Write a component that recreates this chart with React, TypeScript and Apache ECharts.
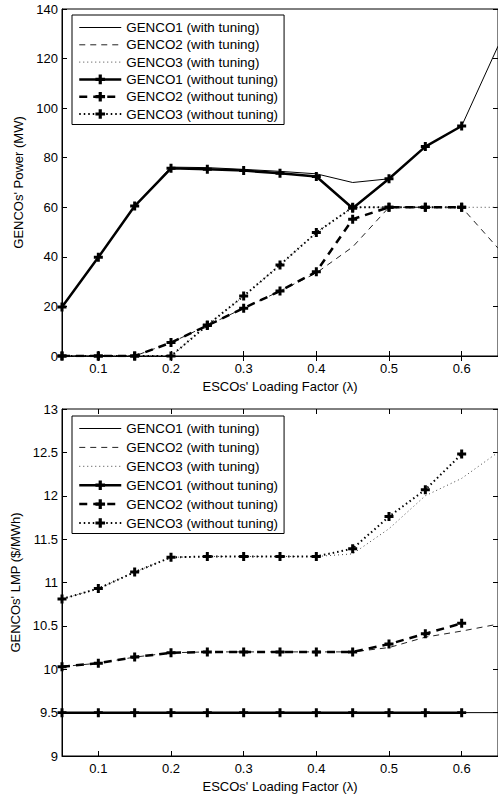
import React, { useEffect, useRef } from "react";
import * as echarts from "echarts";

const lambda = [0.05, 0.1, 0.15, 0.2, 0.25, 0.3, 0.35, 0.4, 0.45, 0.5, 0.55, 0.6, 0.65];
const xTicks = [0.1, 0.2, 0.3, 0.4, 0.5, 0.6];

const seriesNames = [
  "GENCO1 (with tuning)",
  "GENCO2 (with tuning)",
  "GENCO3 (with tuning)",
  "GENCO1 (without tuning)",
  "GENCO2 (without tuning)",
  "GENCO3 (without tuning)",
];

// GENCOs' Power (MW)
const powerG1With = [19.8, 39.8, 60.5, 76.2, 76.0, 75.3, 74.5, 73.5, 70.0, 71.5, 84.5, 92.8, 125];
const powerG2With = [0, 0, 0, 5.4, 12.3, 19.3, 26.2, 33.5, 44, 60, 60, 60, 43.5];
const powerG3With = [0, 0, 0, 0, 12.3, 24.2, 36.7, 49.8, 60, 60, 60, 60, 60];
const powerG1Without = [19.8, 39.8, 60.5, 75.7, 75.3, 74.8, 73.7, 72.4, 59.6, 71.5, 84.5, 92.8];
const powerG2Without = [0, 0, 0, 5.4, 12.3, 19.3, 26.2, 34.0, 55.2, 60, 60, 60];
const powerG3Without = [0, 0, 0, 0, 12.5, 24.2, 36.7, 49.8, 60, 60, 60, 60];

// GENCOs' LMP ($/MWh)
const lmpG1With = [9.5, 9.5, 9.5, 9.5, 9.5, 9.5, 9.5, 9.5, 9.5, 9.5, 9.5, 9.5, 9.5];
const lmpG2With = [10.03, 10.07, 10.14, 10.19, 10.2, 10.2, 10.2, 10.2, 10.2, 10.25, 10.37, 10.44, 10.52];
const lmpG3With = [10.81, 10.93, 11.12, 11.29, 11.3, 11.3, 11.3, 11.3, 11.33, 11.62, 12.0, 12.2, 12.5];
const lmpG1Without = [9.5, 9.5, 9.5, 9.5, 9.5, 9.5, 9.5, 9.5, 9.5, 9.5, 9.5, 9.5];
const lmpG2Without = [10.03, 10.07, 10.14, 10.19, 10.2, 10.2, 10.2, 10.2, 10.2, 10.29, 10.41, 10.53];
const lmpG3Without = [10.81, 10.93, 11.12, 11.29, 11.3, 11.3, 11.3, 11.3, 11.39, 11.76, 12.07, 12.48];

const FONT = "Arial, 'Liberation Sans', Helvetica, sans-serif";
const PLUS = "path://M3,0H6V3H9V6H6V9H3V6H0V3H3Z";

const styles = [
  { width: 1, type: "solid" as any, color: "#000", marker: false },
  { width: 1, type: [6, 5] as any, color: "#222", marker: false },
  { width: 1, type: [1, 3] as any, color: "#444", marker: false },
  { width: 2.5, type: "solid" as any, color: "#000", marker: true },
  { width: 2.5, type: [8, 6] as any, color: "#000", marker: true },
  { width: 2, type: [1.5, 3] as any, color: "#000", marker: true },
];

function pairs(vals: number[]) {
  return vals.map((v, i) => [lambda[i], v]);
}

function buildOption(cfg: {
  data: number[][];
  yMin: number;
  yMax: number;
  yInterval: number;
  yName: string;
  gridBottom: number;
  legendTop: number;
  legendGap: number;
  legendPadding: number[];
}) {
  const axisText = { color: "#000", fontSize: 13, fontFamily: FONT };
  return {
    animation: false,
    backgroundColor: "#fff",
    textStyle: { fontFamily: FONT },
    grid: {
      left: 62,
      top: 9,
      right: -5,
      bottom: cfg.gridBottom,
      show: true,
      borderColor: "#000",
      borderWidth: 1,
      backgroundColor: "transparent",
    },
    legend: {
      data: seriesNames.map((name, i) => ({
        name,
        itemStyle: { color: "#000", opacity: styles[i].marker ? 1 : 0 },
        lineStyle: { color: styles[i].color, width: styles[i].width, type: styles[i].type },
      })),
      orient: "vertical",
      left: 72,
      top: cfg.legendTop,
      itemWidth: 42,
      itemHeight: 12,
      itemGap: cfg.legendGap,
      padding: cfg.legendPadding,
      borderColor: "#000",
      borderWidth: 1,
      backgroundColor: "#fff",
      selectedMode: false,
      textStyle: { color: "#000", fontSize: 13.4, fontFamily: FONT, padding: [0, 0, 0, 0] },
    },
    xAxis: [
      {
        type: "value",
        min: 0.05,
        max: 0.65,
        name: "ESCOs' Loading Factor (λ)",
        nameLocation: "middle",
        nameGap: 22,
        nameTextStyle: axisText,
        axisLine: { show: true, lineStyle: { color: "#000", width: 1 } },
        axisTick: { show: true, inside: true, length: 5, customValues: xTicks, lineStyle: { color: "#000" } },
        axisLabel: { ...axisText, margin: 6, customValues: xTicks, formatter: (v: number) => v.toFixed(1) },
        splitLine: { show: false },
      },
      {
        type: "value",
        position: "top",
        min: 0.05,
        max: 0.65,
        axisLine: { show: false },
        axisTick: { show: true, inside: true, length: 5, customValues: xTicks, lineStyle: { color: "#000" } },
        axisLabel: { show: false, customValues: xTicks },
        splitLine: { show: false },
      },
    ],
    yAxis: [
      {
        type: "value",
        min: cfg.yMin,
        max: cfg.yMax,
        interval: cfg.yInterval,
        name: cfg.yName,
        nameLocation: "middle",
        nameGap: 32,
        nameTextStyle: axisText,
        axisLine: { show: true, lineStyle: { color: "#000", width: 1 } },
        axisTick: { show: true, inside: true, length: 5, lineStyle: { color: "#000" } },
        axisLabel: { ...axisText, margin: 4 },
        splitLine: { show: false },
      },
      {
        type: "value",
        position: "right",
        min: cfg.yMin,
        max: cfg.yMax,
        interval: cfg.yInterval,
        axisLine: { show: false },
        axisTick: { show: true, inside: true, length: 5, lineStyle: { color: "#000" } },
        axisLabel: { show: false },
        splitLine: { show: false },
      },
    ],
    series: cfg.data.map((vals, i) => {
      const s = styles[i];
      return {
        name: seriesNames[i],
        type: "line",
        xAxisIndex: 0,
        yAxisIndex: 0,
        data: pairs(vals),
        symbol: s.marker ? PLUS : "none",
        showSymbol: s.marker,
        symbolSize: 9,
        itemStyle: { color: "#000" },
        lineStyle: { color: s.color, width: s.width, type: s.type },
        z: s.marker ? 3 : 2,
        clip: true,
      };
    }),
  };
}

function Chart({ option, height }: { option: any; height: number }) {
  const ref = useRef<HTMLDivElement>(null);
  useEffect(() => {
    if (!ref.current) return;
    const chart = echarts.init(ref.current, undefined, { renderer: "svg" });
    chart.setOption(option);
    return () => chart.dispose();
  }, [option]);
  return <div ref={ref} style={{ width: 498, height }} />;
}

const topOption = buildOption({
  data: [powerG1With, powerG2With, powerG3With, powerG1Without, powerG2Without, powerG3Without],
  yMin: 0,
  yMax: 140,
  yInterval: 20,
  yName: "GENCOs' Power (MW)",
  gridBottom: 44,
  legendTop: 15,
  legendGap: 4.3,
  legendPadding: [6, 6, 4, 6],
});

const bottomOption = buildOption({
  data: [lmpG1With, lmpG2With, lmpG3With, lmpG1Without, lmpG2Without, lmpG3Without],
  yMin: 9,
  yMax: 13,
  yInterval: 0.5,
  yName: "GENCOs' LMP ($/MWh)",
  gridBottom: 42,
  legendTop: 16,
  legendGap: 5.9,
  legendPadding: [6, 6, 4, 6],
});

export default function App() {
  return (
    <div style={{ position: "absolute", left: 0, top: 0, width: 498, height: 798, overflow: "hidden", background: "#fff" }}>
      <Chart option={topOption} height={400} />
      <Chart option={bottomOption} height={398} />
    </div>
  );
}
